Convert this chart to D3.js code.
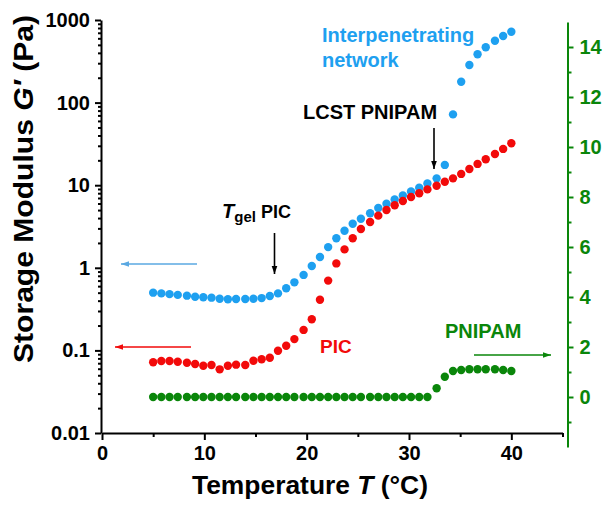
<!DOCTYPE html>
<html>
<head>
<meta charset="utf-8">
<script src="https://cdn.jsdelivr.net/npm/d3@7"></script>
<style>
  body { margin: 0; background: #fff; }
  text { font-family: "Liberation Sans", Arial, sans-serif; font-weight: bold; }
</style>
</head>
<body>
<div id="chart"></div>
<script>
// temperature ramp (°C), one point every ~0.8 °C
const temperature = [5.0, 5.8, 6.6, 7.4, 8.3, 9.1, 9.9, 10.7, 11.5, 12.3, 13.1, 14.0, 14.8, 15.6, 16.4,
    17.2, 18.0, 18.8, 19.7, 20.5, 21.3, 22.1, 22.9, 23.7, 24.5, 25.3, 26.2, 27.0, 27.8, 28.6, 29.4,
    30.2, 31.0, 31.8, 32.7, 33.5, 34.3, 35.1, 35.9, 36.7, 37.5, 38.4, 39.2, 40.0];

// storage modulus G' (Pa), left axis
const gNetwork = [0.50, 0.49, 0.48, 0.47, 0.46, 0.447, 0.44, 0.435, 0.422, 0.416,
    0.419, 0.419, 0.422, 0.43, 0.456, 0.49, 0.565, 0.667, 0.82, 1.05,
    1.35, 1.78, 2.28, 2.81, 3.42, 3.93, 4.57, 5.3, 5.97, 6.7,
    7.5, 8.4, 9.3, 10.5, 12.1, 17.6, 72, 179, 285, 385,
    467, 561, 640, 722];
const gPIC = [0.0718, 0.0745, 0.0745, 0.073, 0.071, 0.0684, 0.0653, 0.0666, 0.059, 0.0653,
    0.0672, 0.0666, 0.075, 0.078, 0.0816, 0.099, 0.114, 0.137, 0.177, 0.238,
    0.41, 0.70, 1.13, 1.67, 2.28, 2.95, 3.58, 4.28, 5.01, 5.71,
    6.44, 7.2, 8.0, 8.9, 9.86, 11.0, 12.1, 13.7, 15.7, 18.1,
    20.6, 23.9, 27.5, 32.2];
// PNIPAM, right axis
const gPNIPAM = [0, 0, 0, 0, 0, 0, 0, 0, 0, 0,
    0, 0, 0, 0, 0, 0, 0, 0, 0, 0,
    0, 0, 0, 0, 0, 0, 0, 0, 0, 0,
    0, 0, 0, 0, 0.35, 0.81, 1.04, 1.08, 1.11, 1.11,
    1.11, 1.11, 1.08, 1.04];

const xTicks = [0, 10, 20, 30, 40];
const xMinorTicks = [5, 15, 25, 35, 45];
const leftTicks = [0.01, 0.1, 1, 10, 100, 1000];
const leftTickLabels = ["0.01", "0.1", "1", "10", "100", "1000"];
const rightTicks = [0, 2, 4, 6, 8, 10, 12, 14];
const rightMinorTicks = [-1, 1, 3, 5, 7, 9, 11, 13];

const blue = "#1ea0f0";
const red = "#f20a0a";
const green = "#0a860a";

const width = 608, height = 506;

const svg = d3.select("#chart")
    .append("svg")
    .attr("width", width)
    .attr("height", height);

const defs = svg.append("defs");
[["arrowBlack", "#000"], ["arrowBlue", "#5aa8e2"], ["arrowRed", red], ["arrowGreen", green]].forEach(([id, c]) => {
    defs.append("marker")
        .attr("id", id)
        .attr("viewBox", "0 0 10 10")
        .attr("refX", 10).attr("refY", 5)
        .attr("markerWidth", 8).attr("markerHeight", 8)
        .attr("markerUnits", "userSpaceOnUse")
        .attr("orient", "auto")
        .append("path")
        .attr("d", "M0,1.5 L10,5 L0,8.5 Z")
        .attr("fill", c);
});

const x = d3.scaleLinear().domain([0, 45]).range([102, 562.5]);
const y = d3.scaleLog().domain([0.01, 1000]).range([433, 20]);
const y2 = d3.scaleLinear().domain([-2, 15]).range([447, 22]);

// bottom axis
svg.append("g")
    .attr("transform", "translate(0,433)")
    .call(d3.axisBottom(x).tickValues(xTicks).tickSize(7).tickPadding(6).tickSizeOuter(0));
svg.append("g")
    .attr("transform", "translate(0,433)")
    .call(d3.axisBottom(x).tickValues(xMinorTicks).tickSize(4).tickFormat("").tickSizeOuter(0))
    .select(".domain").remove();

// left log axis, decades + minor 2..9
const minor = [];
leftTicks.slice(0, -1).forEach(d => { for (let k = 2; k <= 9; k++) minor.push(d * k); });
svg.append("g")
    .attr("transform", "translate(101,0)")
    .call(d3.axisLeft(y).tickValues(leftTicks).tickSize(6).tickPadding(5).tickSizeOuter(0)
        .tickFormat((d, i) => leftTickLabels[i]));
svg.append("g")
    .attr("transform", "translate(101,0)")
    .call(d3.axisLeft(y).tickValues(minor).tickSize(3).tickFormat("").tickSizeOuter(0))
    .select(".domain").remove();

// right axis (green)
const y2Axis = svg.append("g")
    .attr("transform", "translate(567.5,0)")
    .call(d3.axisRight(y2).tickValues(rightTicks).tickSize(6).tickPadding(6).tickSizeOuter(0));
const y2Minor = svg.append("g")
    .attr("transform", "translate(567.5,0)")
    .call(d3.axisRight(y2).tickValues(rightMinorTicks).tickSize(4).tickFormat("").tickSizeOuter(0));
y2Minor.select(".domain").remove();

svg.selectAll(".domain, .tick line").attr("stroke-width", 2);
svg.selectAll(".tick text").style("font-size", "20px").attr("fill", "#000");
y2Axis.selectAll(".tick text").attr("fill", green);
y2Axis.selectAll(".domain, .tick line").attr("stroke", green);
y2Minor.selectAll(".tick line").attr("stroke", green);

// axis titles
svg.append("text")
    .attr("x", 310).attr("y", 494)
    .attr("text-anchor", "middle")
    .attr("textLength", 236)
    .attr("lengthAdjust", "spacingAndGlyphs")
    .style("font-size", "25px")
    .call(t => {
        t.append("tspan").text("Temperature ");
        t.append("tspan").style("font-style", "italic").text("T");
        t.append("tspan").text(" (°C)");
    });

svg.append("text")
    .attr("transform", "translate(33,189) rotate(-90)")
    .attr("text-anchor", "middle")
    .attr("textLength", 348)
    .attr("lengthAdjust", "spacingAndGlyphs")
    .style("font-size", "27px")
    .call(t => {
        t.append("tspan").text("Storage Modulus ");
        t.append("tspan").style("font-style", "italic").text("G′");
        t.append("tspan").text(" (Pa)");
    });

// data points
const r = 4.2;
function dots(values, scale, color) {
    svg.append("g")
        .selectAll("circle")
        .data(values)
        .join("circle")
        .attr("cx", (d, i) => x(temperature[i]))
        .attr("cy", d => scale(d))
        .attr("r", r)
        .attr("fill", color);
}
dots(gPNIPAM, y2, green);
dots(gNetwork, y, blue);
dots(gPIC, y, red);

// annotations
function label(px, py, str, color, size) {
    return svg.append("text")
        .attr("x", px).attr("y", py)
        .attr("fill", color)
        .style("font-size", size + "px")
        .text(str);
}
label(322, 42, "Interpenetrating", blue, 20);
label(322, 67, "network", blue, 20);
label(303, 119, "LCST PNIPAM", "#000", 20);
label(320, 353, "PIC", red, 19);
label(445, 338, "PNIPAM", green, 20);

const tgel = svg.append("text").attr("x", 222).attr("y", 218).attr("fill", "#000").style("font-size", "20px");
tgel.append("tspan").style("font-style", "italic").text("T");
tgel.append("tspan").attr("dy", 4).style("font-size", "15px").text("gel");
tgel.append("tspan").attr("dy", -4).style("font-size", "18px").text(" PIC");

function arrow(x1, y1, x2, y2, color, marker) {
    svg.append("line")
        .attr("x1", x1).attr("y1", y1).attr("x2", x2).attr("y2", y2)
        .attr("stroke", color).attr("stroke-width", 1.6)
        .attr("marker-end", `url(#${marker})`);
}
arrow(274.5, 233, 274.5, 274, "#000", "arrowBlack");
arrow(434, 128, 434, 169, "#000", "arrowBlack");
arrow(197, 264, 121, 264, "#5aa8e2", "arrowBlue");
arrow(191, 347, 115, 347, red, "arrowRed");
arrow(474, 355, 551, 355, green, "arrowGreen");
</script>
</body>
</html>
